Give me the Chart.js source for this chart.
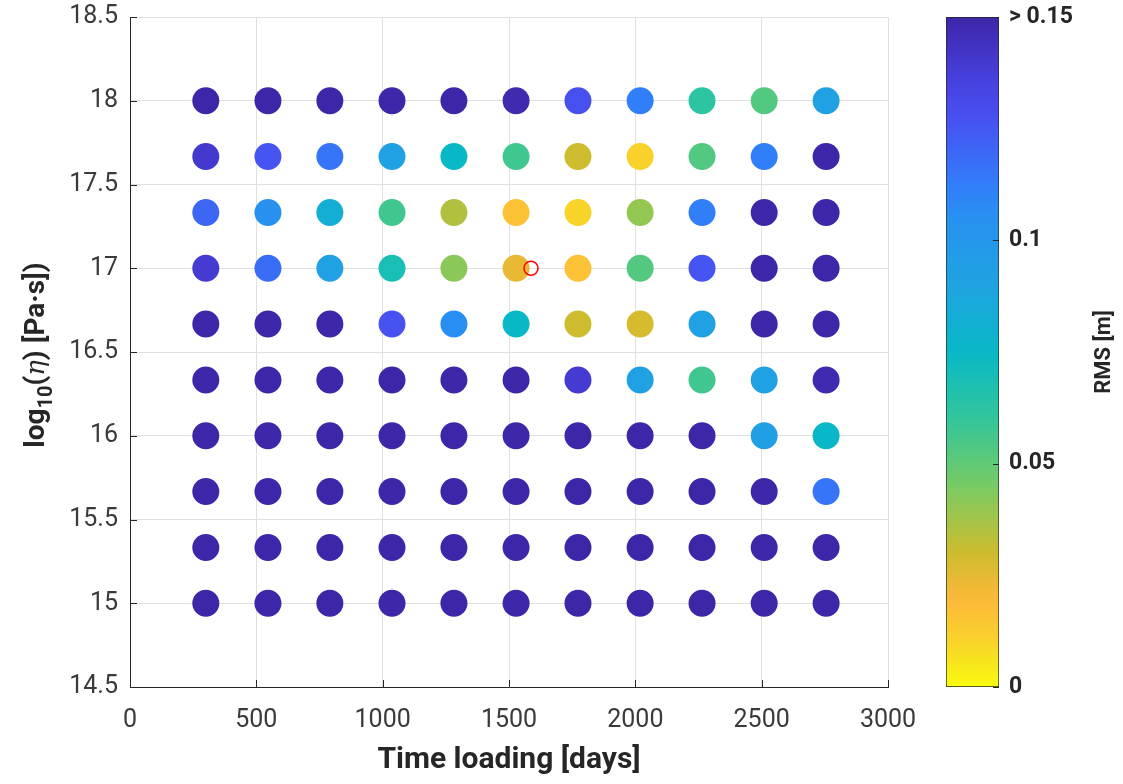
<!DOCTYPE html>
<html>
<head>
<meta charset="utf-8">
<script src="https://cdn.jsdelivr.net/npm/chart.js@4.4.1/dist/chart.umd.min.js"></script>
<style>
  html, body { margin: 0; padding: 0; background: #ffffff; }
  #wrap { position: relative; width: 1123px; height: 784px; }
  canvas { position: absolute; left: 0; top: 0; }
</style>
</head>
<body>
<div id="wrap">
  <canvas id="main" width="1123" height="784"></canvas>
  <canvas id="cbar" width="1123" height="784"></canvas>
</div>
<script>
// ---------------- DATA ----------------
const timeLoadingDays = [300, 546, 791, 1037, 1282, 1528, 1773, 2019, 2264, 2510, 2755];
const log10Viscosity = [18, 17.667, 17.333, 17, 16.667, 16.333, 16, 15.667, 15.333, 15];

// RMS [m] per row (one array per viscosity row, values along time loading); 0.15 = saturated (> 0.15)
const rmsEta18_000 = [0.15, 0.15, 0.15, 0.15, 0.15, 0.148, 0.128, 0.112, 0.062, 0.053, 0.092];
const rmsEta17_667 = [0.14, 0.126, 0.115, 0.092, 0.075, 0.057, 0.030, 0.011, 0.053, 0.112, 0.15];
const rmsEta17_333 = [0.12, 0.105, 0.083, 0.057, 0.035, 0.0165, 0.010, 0.040, 0.112, 0.15, 0.15];
const rmsEta17_000 = [0.139, 0.118, 0.092, 0.069, 0.042, 0.024, 0.0165, 0.053, 0.126, 0.15, 0.15];
const rmsEta16_667 = [0.15, 0.15, 0.15, 0.127, 0.106, 0.075, 0.030, 0.028, 0.092, 0.15, 0.15];
const rmsEta16_333 = [0.15, 0.15, 0.15, 0.15, 0.15, 0.15, 0.139, 0.092, 0.057, 0.092, 0.148];
const rmsEta16_000 = [0.15, 0.15, 0.15, 0.15, 0.15, 0.15, 0.15, 0.15, 0.15, 0.093, 0.076];
const rmsEta15_667 = [0.15, 0.15, 0.15, 0.15, 0.15, 0.15, 0.15, 0.15, 0.15, 0.15, 0.115];
const rmsEta15_333 = [0.15, 0.15, 0.15, 0.15, 0.15, 0.15, 0.15, 0.15, 0.15, 0.15, 0.15];
const rmsEta15_000 = [0.15, 0.15, 0.15, 0.15, 0.15, 0.15, 0.15, 0.15, 0.15, 0.15, 0.15];
const rmsRows = [rmsEta18_000, rmsEta17_667, rmsEta17_333, rmsEta17_000, rmsEta16_667,
                 rmsEta16_333, rmsEta16_000, rmsEta15_667, rmsEta15_333, rmsEta15_000];

// best-fit marker (red circle)
const bestTime = [1587];
const bestLogEta = [17];

// axis ticks
const xTickValues = [0, 500, 1000, 1500, 2000, 2500, 3000];
const xTickLabels = ['0', '500', '1000', '1500', '2000', '2500', '3000'];
const yTickValues = [14.5, 15, 15.5, 16, 16.5, 17, 17.5, 18, 18.5];
const yTickLabels = ['14.5', '15', '15.5', '16', '16.5', '17', '17.5', '18', '18.5'];
const cbarTickValues = [0, 0.05, 0.1, 0.15];
const cbarTickLabels = ['0', '0.05', '0.1', '> 0.15'];
const rmsMax = 0.15;

// ---------------- COLORMAP (parula, reversed: 0 -> yellow, 0.15 -> dark blue) ----------------
const parulaStops = [
  [0.00, 62, 38, 168],
  [0.10, 71, 66, 225],
  [0.15, 72, 80, 240],
  [0.25, 50, 125, 250],
  [0.30, 40, 145, 240],
  [0.40, 31, 163, 225],
  [0.50, 8, 184, 198],
  [0.60, 50, 198, 155],
  [0.70, 120, 203, 100],
  [0.80, 205, 188, 45],
  [0.87, 253, 185, 58],
  [0.94, 248, 215, 40],
  [1.00, 249, 251, 14]
];
function parula(t) {
  t = Math.max(0, Math.min(1, t));
  for (let i = 1; i < parulaStops.length; i++) {
    const a = parulaStops[i - 1], b = parulaStops[i];
    if (t <= b[0]) {
      const f = (t - a[0]) / (b[0] - a[0]);
      const r = Math.round(a[1] + f * (b[1] - a[1]));
      const g = Math.round(a[2] + f * (b[2] - a[2]));
      const bl = Math.round(a[3] + f * (b[3] - a[3]));
      return `rgb(${r},${g},${bl})`;
    }
  }
  return 'rgb(249,251,14)';
}
function rmsColor(v) { return parula(1 - Math.min(v, rmsMax) / rmsMax); }

// ---------------- BUILD POINTS ----------------
const points = [];
const pointColors = [];
log10Viscosity.forEach((eta, r) => {
  timeLoadingDays.forEach((t, c) => {
    points.push({ x: t, y: eta });
    pointColors.push(rmsColor(rmsRows[r][c]));
  });
});
const bestPoints = bestTime.map((t, i) => ({ x: t, y: bestLogEta[i] }));

const axisColor = '#262626';
const tickColor = '#3a3a3a';
const gridColor = '#e0e0e0';
const FONT = 'Roboto, "Noto Sans", "DejaVu Sans", sans-serif';

// ---------------- PLUGINS ----------------
const innerTicksMain = {
  id: 'innerTicksMain',
  afterDraw(chart) {
    const { ctx, chartArea } = chart;
    const xs = chart.scales.x, ys = chart.scales.y;
    ctx.save();
    ctx.strokeStyle = axisColor;
    ctx.lineWidth = 1;
    ctx.beginPath();
    xTickValues.forEach(v => {
      const px = Math.round(xs.getPixelForValue(v)) + 0.5;
      ctx.moveTo(px, chartArea.bottom);
      ctx.lineTo(px, chartArea.bottom - 7);
    });
    yTickValues.forEach(v => {
      const py = Math.round(ys.getPixelForValue(v)) + 0.5;
      ctx.moveTo(chartArea.left, py);
      ctx.lineTo(chartArea.left + 7, py);
    });
    ctx.stroke();

    // Y axis title with subscript and italic eta
    const cx = 35, cy = 355;
    const parts = [
      { t: 'log', f: 'bold 28px ' + FONT, dy: 0 },
      { t: '10', f: 'bold 20px ' + FONT, dy: 8 },
      { t: '(', f: 'bold 28px ' + FONT, dy: 0 },
      { t: 'η', f: 'italic 26px "DejaVu Serif", "Liberation Serif", serif', dy: 0 },
      { t: ') [Pa·s])', f: 'bold 28px ' + FONT, dy: 0 }
    ];
    let total = 0;
    parts.forEach(p => { ctx.font = p.f; p.w = ctx.measureText(p.t).width; total += p.w; });
    ctx.translate(cx, cy);
    ctx.rotate(-Math.PI / 2);
    ctx.fillStyle = '#262626';
    ctx.textBaseline = 'alphabetic';
    ctx.textAlign = 'left';
    let x = -total / 2;
    parts.forEach(p => {
      ctx.font = p.f;
      ctx.fillText(p.t, x, 9 + p.dy);
      x += p.w;
    });
    ctx.restore();
  }
};

const cbarExtras = {
  id: 'cbarExtras',
  afterDraw(chart) {
    const { ctx, chartArea } = chart;
    const ys = chart.scales.y;
    ctx.save();
    ctx.strokeStyle = axisColor;
    ctx.lineWidth = 1;
    ctx.beginPath();
    cbarTickValues.forEach(v => {
      const py = Math.round(ys.getPixelForValue(v)) + 0.5;
      ctx.moveTo(chartArea.right, py);
      ctx.lineTo(chartArea.right - 6, py);
    });
    ctx.stroke();
    // colorbar label
    ctx.translate(1104, 352);
    ctx.rotate(-Math.PI / 2);
    ctx.font = 'bold 22px ' + FONT;
    ctx.fillStyle = '#262626';
    ctx.textAlign = 'center';
    ctx.textBaseline = 'middle';
    ctx.fillText('RMS [m]', 0, 0);
    ctx.restore();
  }
};

// ---------------- MAIN CHART ----------------
new Chart(document.getElementById('main'), {
  type: 'scatter',
  data: {
    datasets: [
      {
        label: 'best fit',
        data: bestPoints,
        order: 0,
        pointRadius: 7,
        pointHoverRadius: 7,
        pointBackgroundColor: 'rgba(0,0,0,0)',
        pointBorderColor: '#ff0000',
        pointBorderWidth: 1.6
      },
      {
        label: 'RMS',
        data: points,
        order: 1,
        pointRadius: 13.5,
        pointHoverRadius: 13.5,
        pointBackgroundColor: pointColors,
        pointBorderWidth: 0,
        pointBorderColor: pointColors
      }
    ]
  },
  options: {
    responsive: false,
    animation: false,
    devicePixelRatio: 1,
    layout: { padding: { left: 0, right: 235, top: 17, bottom: 0 } },
    plugins: { legend: { display: false }, tooltip: { enabled: false } },
    scales: {
      x: {
        type: 'linear',
        min: 0, max: 3000,
        afterBuildTicks: s => { s.ticks = xTickValues.map(v => ({ value: v })); },
        afterFit: s => { s.height = 97; s.paddingLeft = 0; s.paddingRight = 0; },
        ticks: {
          color: tickColor, font: { family: FONT, size: 25 }, padding: 19, maxRotation: 0,
          callback: (v) => xTickLabels[xTickValues.indexOf(v)]
        },
        grid: { color: gridColor, drawTicks: false, lineWidth: 1 },
        border: { display: true, color: axisColor, width: 1 },
        title: {
          display: true, text: 'Time loading [days]', color: '#262626',
          font: { family: FONT, size: 30, weight: 'bold' }, padding: { top: 0, bottom: 6 }
        }
      },
      y: {
        type: 'linear',
        min: 14.5, max: 18.5,
        afterBuildTicks: s => { s.ticks = yTickValues.map(v => ({ value: v })); },
        afterFit: s => { s.width = 130; s.paddingTop = 0; s.paddingBottom = 0; },
        ticks: {
          color: tickColor, font: { family: FONT, size: 25 }, padding: 12,
          callback: (v) => yTickLabels[yTickValues.indexOf(v)]
        },
        grid: { color: gridColor, drawTicks: false, lineWidth: 1 },
        border: { display: true, color: axisColor, width: 1 }
      }
    }
  },
  plugins: [innerTicksMain]
});

// ---------------- COLORBAR CHART ----------------
new Chart(document.getElementById('cbar'), {
  type: 'bar',
  data: {
    labels: ['RMS'],
    datasets: [{
      data: [[0, rmsMax]],
      barPercentage: 1,
      categoryPercentage: 1,
      borderColor: axisColor,
      borderWidth: 1,
      borderSkipped: false,
      backgroundColor: (ctx) => {
        const chart = ctx.chart;
        const area = chart.chartArea;
        if (!area) return '#3e26a8';
        const g = chart.ctx.createLinearGradient(0, area.bottom, 0, area.top);
        const n = 64;
        for (let i = 0; i <= n; i++) {
          const f = i / n;
          g.addColorStop(f, rmsColor(f * rmsMax));
        }
        return g;
      }
    }]
  },
  options: {
    responsive: false,
    animation: false,
    devicePixelRatio: 1,
    layout: { padding: { left: 946, right: 24, top: 17, bottom: 97 } },
    plugins: { legend: { display: false }, tooltip: { enabled: false } },
    scales: {
      x: { display: false },
      y: {
        position: 'right',
        min: 0, max: rmsMax,
        afterBuildTicks: s => { s.ticks = cbarTickValues.map(v => ({ value: v })); },
        afterFit: s => { s.width = 100; s.paddingTop = 0; s.paddingBottom = 0; },
        ticks: {
          color: '#262626',
          font: { family: FONT, size: 23, weight: 'bold' },
          padding: 10,
          callback: (v) => cbarTickLabels[cbarTickValues.indexOf(v)]
        },
        grid: { display: false, drawTicks: false },
        border: { display: false }
      }
    }
  },
  plugins: [cbarExtras]
});
</script>
</body>
</html>
